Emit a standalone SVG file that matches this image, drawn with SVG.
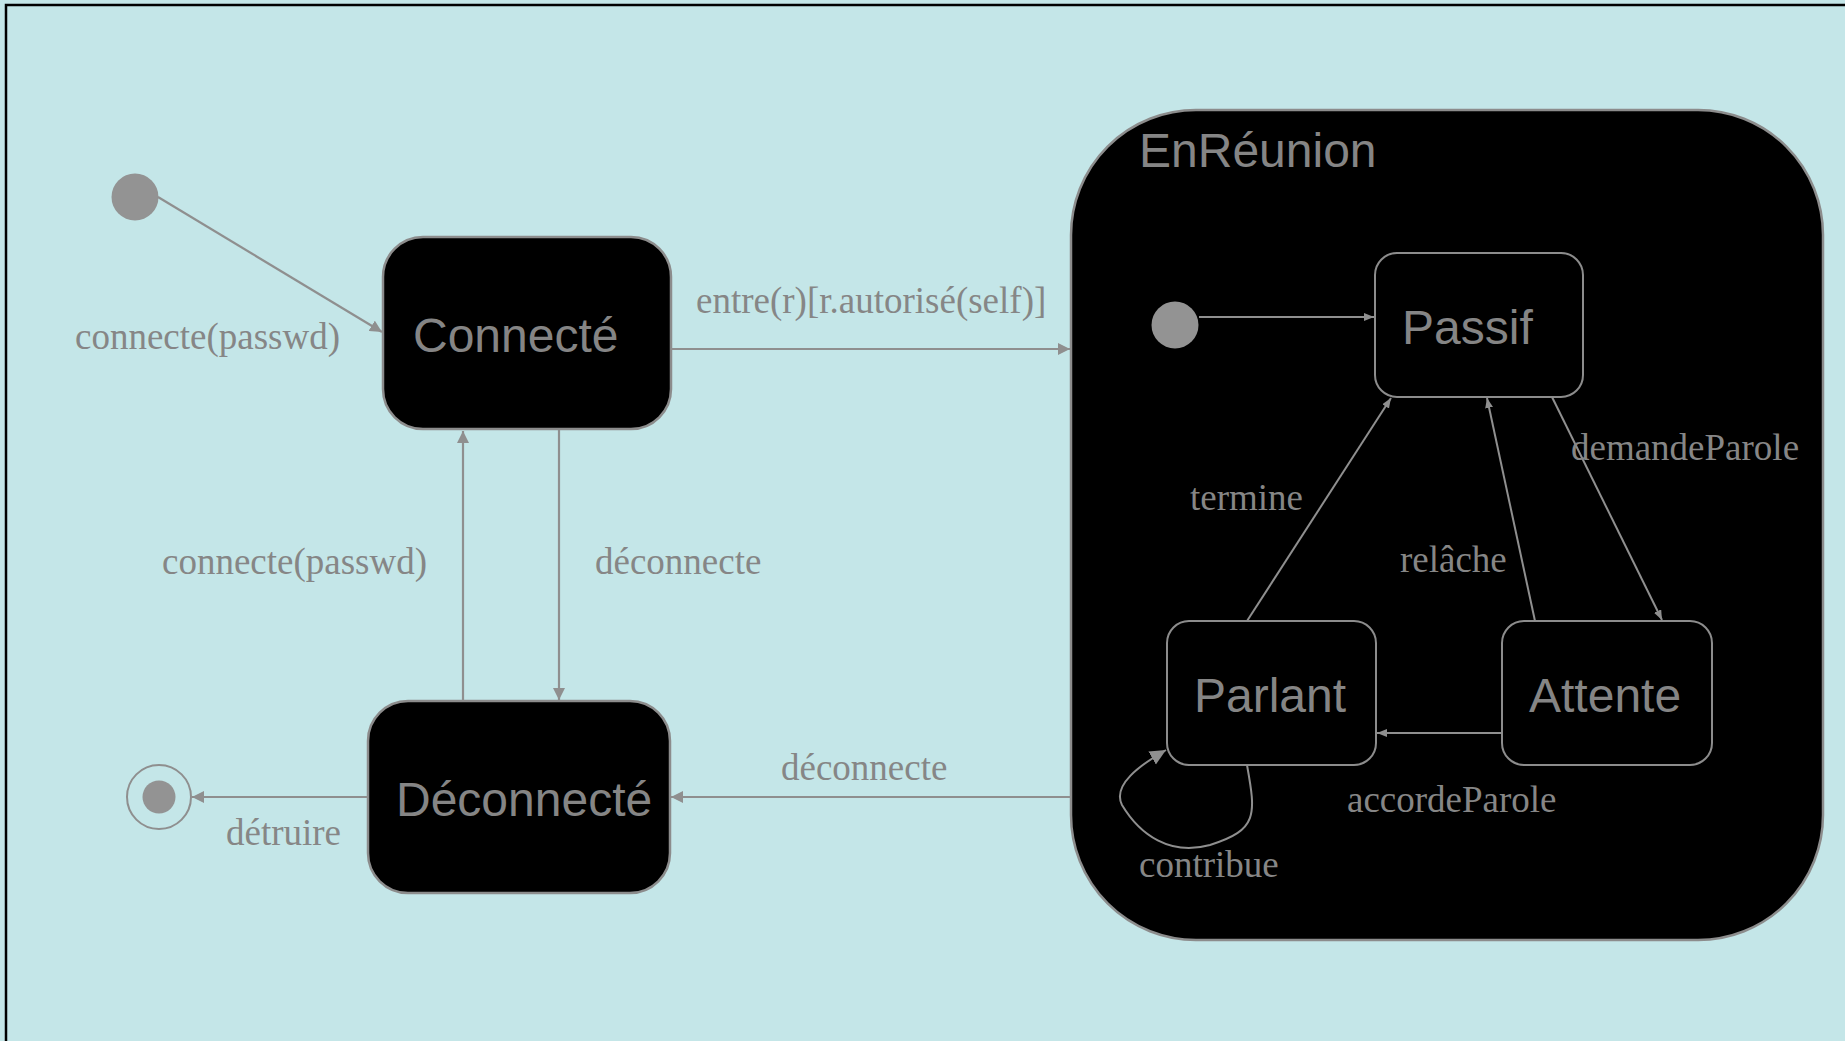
<svg xmlns="http://www.w3.org/2000/svg" width="1845" height="1041" viewBox="0 0 1845 1041">
<defs>
<style>
.lbl{font-family:"Liberation Serif","Times New Roman",serif;font-size:37px;fill:#868686}
.name{font-family:"Liberation Sans",Arial,sans-serif;font-size:48px;fill:#858585}
.state{fill:#000;stroke:#8c8c8c;stroke-width:2.5}
.sub{fill:#000;stroke:#8c8c8c;stroke-width:2}
.edge{fill:none;stroke:#8f8f8f;stroke-width:2.2}
.iedge{fill:none;stroke:#8f8f8f;stroke-width:2}
.dot{fill:#939393}
</style>
<marker id="ah" markerUnits="userSpaceOnUse" markerWidth="14" markerHeight="12" refX="12" refY="6" orient="auto"><path d="M0,0 L12,6 L0,12 z" fill="#8f8f8f"/></marker>
<marker id="ahs" markerUnits="userSpaceOnUse" markerWidth="12" markerHeight="10" refX="10" refY="4" orient="auto"><path d="M0,0 L10,4 L0,8 z" fill="#8f8f8f"/></marker>
<marker id="ahl" markerUnits="userSpaceOnUse" markerWidth="18" markerHeight="16" refX="16" refY="7.5" orient="auto"><path d="M0,0 L16,7.5 L0,15 z" fill="#8f8f8f"/></marker>
</defs>
<rect x="0" y="0" width="1845" height="1041" fill="#c4e6e8"/>
<rect x="6" y="5" width="1900" height="1100" fill="none" stroke="#000" stroke-width="2.5"/>

<g id="EnReunion">
<rect x="1071" y="110" width="752" height="830" rx="125" ry="125" class="state"/>
<text x="1139" y="167" class="name">EnRéunion</text>
</g>

<g id="init1"><circle cx="135" cy="197" r="23.5" class="dot"/></g>
<g id="init2"><circle cx="1175" cy="325" r="23.5" class="dot"/></g>
<g id="final"><circle cx="159" cy="797" r="32" fill="none" stroke="#8f8f8f" stroke-width="2"/><circle cx="159" cy="797" r="16.5" class="dot"/></g>

<g id="Connecte">
<rect x="383" y="237" width="288" height="192" rx="40" ry="40" class="state"/>
<text x="413" y="352" class="name">Connecté</text>
</g>
<g id="Deconnecte">
<rect x="368" y="701" width="302" height="192" rx="40" ry="40" class="state"/>
<text x="396" y="816" class="name">Déconnecté</text>
</g>
<g id="Passif">
<rect x="1375" y="253" width="208" height="144" rx="22" ry="22" class="sub"/>
<text x="1402" y="344" class="name">Passif</text>
</g>
<g id="Parlant">
<rect x="1167" y="621" width="209" height="144" rx="22" ry="22" class="sub"/>
<text x="1194" y="712" class="name">Parlant</text>
</g>
<g id="Attente">
<rect x="1502" y="621" width="210" height="144" rx="22" ry="22" class="sub"/>
<text x="1529" y="712" class="name">Attente</text>
</g>

<g id="connectors">
<line x1="158" y1="197" x2="382" y2="332" class="edge" marker-end="url(#ah)"/>
<line x1="671" y1="349" x2="1070" y2="349" class="edge" marker-end="url(#ah)"/>
<line x1="463" y1="701" x2="463" y2="431" class="edge" marker-end="url(#ah)"/>
<line x1="559" y1="430" x2="559" y2="700" class="edge" marker-end="url(#ah)"/>
<line x1="1071" y1="797" x2="671" y2="797" class="edge" marker-end="url(#ah)"/>
<line x1="368" y1="797" x2="192" y2="797" class="edge" marker-end="url(#ah)"/>
<line x1="1199" y1="317" x2="1374" y2="317" class="iedge" marker-end="url(#ahs)"/>
<line x1="1247" y1="621" x2="1391" y2="398" class="iedge" marker-end="url(#ahs)"/>
<line x1="1535" y1="621" x2="1487" y2="398" class="iedge" marker-end="url(#ahs)"/>
<line x1="1552" y1="397" x2="1662" y2="620" class="iedge" marker-end="url(#ahs)"/>
<line x1="1502" y1="733" x2="1377" y2="733" class="iedge" marker-end="url(#ahs)"/>
<path d="M1247,765 C1256,815 1258,830 1210,845 C1170,856 1140,835 1122,805 C1112,785 1140,765 1166,750" class="iedge" marker-end="url(#ahl)"/>
</g>

<g id="labels">
<text x="75" y="349" class="lbl">connecte(passwd)</text>
<text x="696" y="313" class="lbl">entre(r)[r.autorisé(self)]</text>
<text x="162" y="574" class="lbl">connecte(passwd)</text>
<text x="595" y="574" class="lbl">déconnecte</text>
<text x="781" y="780" class="lbl">déconnecte</text>
<text x="226" y="845" class="lbl">détruire</text>
<text x="1190" y="510" class="lbl">termine</text>
<text x="1400" y="572" class="lbl">relâche</text>
<text x="1571" y="460" class="lbl">demandeParole</text>
<text x="1347" y="812" class="lbl">accordeParole</text>
<text x="1139" y="877" class="lbl">contribue</text>
</g>
</svg>
